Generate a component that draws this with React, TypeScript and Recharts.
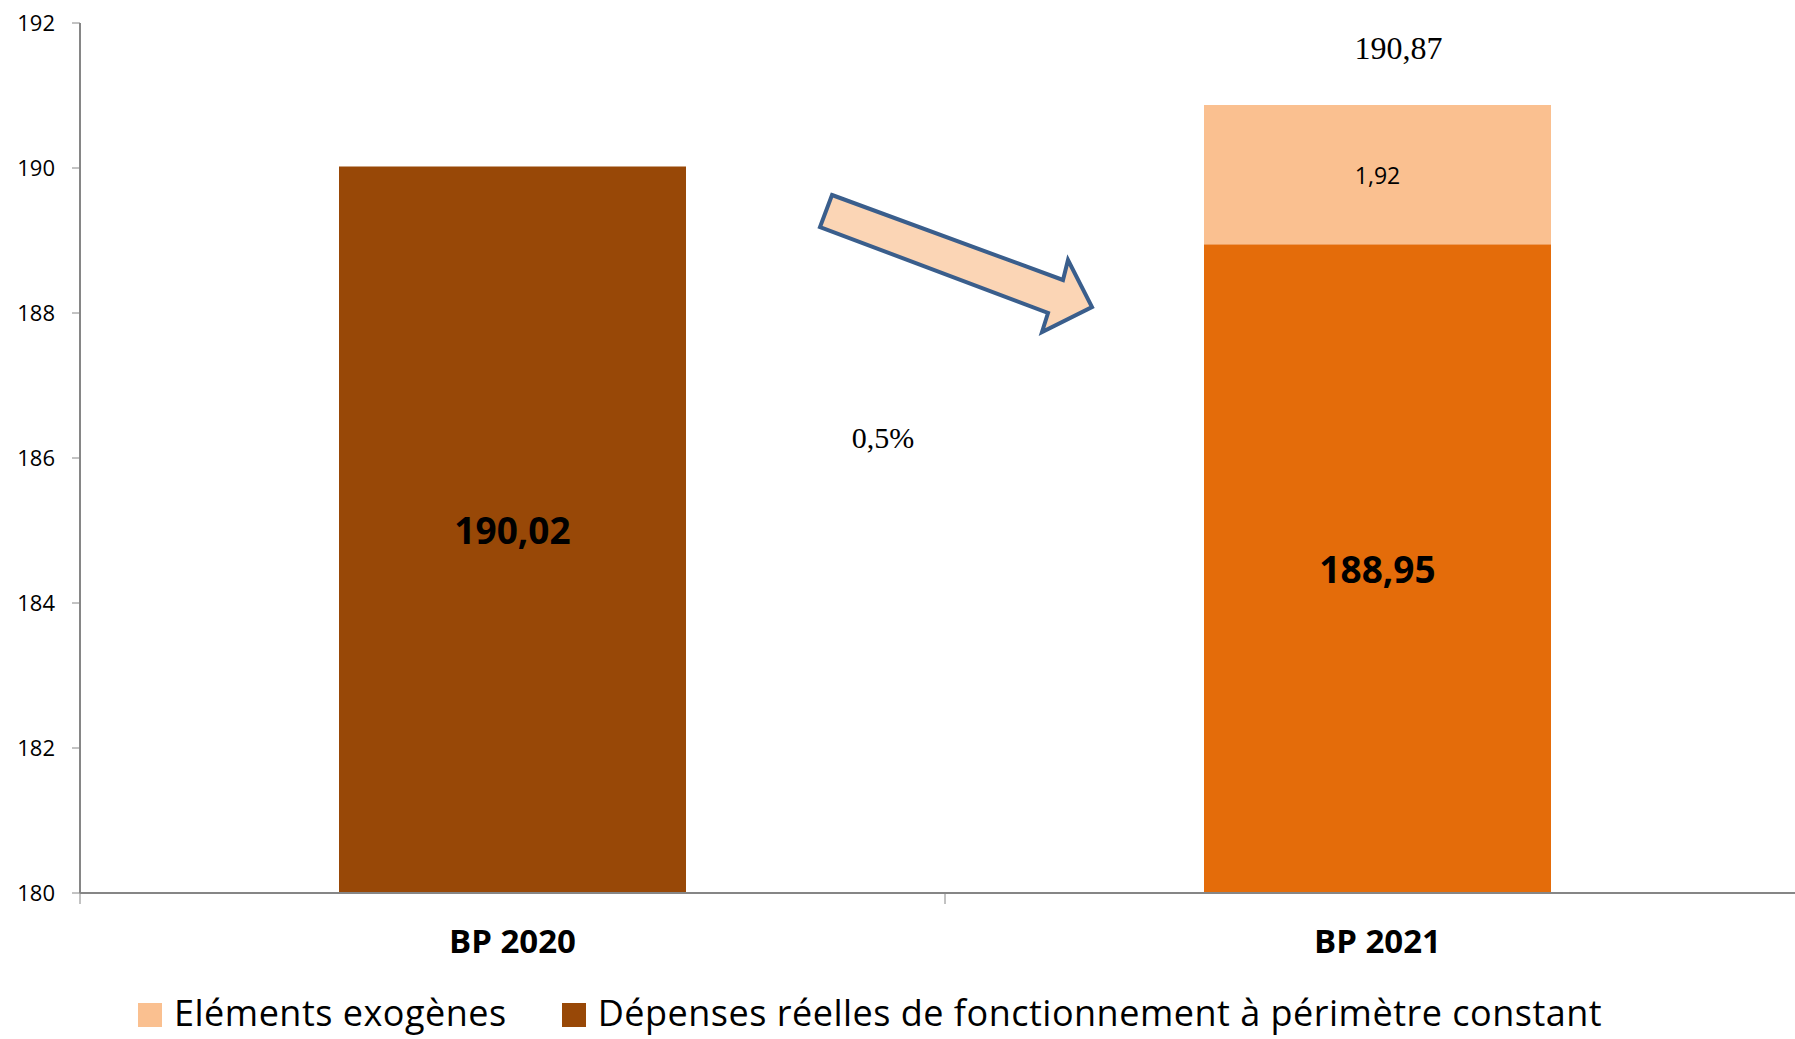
import React from 'react';
import { BarChart, Bar, XAxis, YAxis, Cell, LabelList } from 'recharts';

// values (M€)
const categories = ['BP 2020', 'BP 2021'];
const depenses = [190.02, 188.95];
const exogenes: (number | null)[] = [null, 1.92];
const yTicks = [180, 182, 184, 186, 188, 190, 192];
const variationLabel = '0,5%';

const SERIES_EXO = 'Eléments exogènes';
const SERIES_DEP = 'Dépenses réelles de fonctionnement à périmètre constant';

const DEP_COLORS = ['#984807', '#E46C0A'];
const EXO_COLOR = '#FAC090';
const AXIS_COLOR = '#868686';
const SANS = '"Open Sans", "Noto Sans", sans-serif';
const SERIF = '"Liberation Serif", "DejaVu Serif", serif';

const data = categories.map((name, i) => ({
  name,
  depenses: depenses[i],
  exogenes: exogenes[i],
  // total shown above the stacked bar only
  total: exogenes[i] != null ? depenses[i] + (exogenes[i] as number) : null,
}));

// layout
const W = 1830;
const H = 1039;
const MARGIN = { top: 23, right: 20, left: 0, bottom: 0 };
const YAXIS_W = 80;
const XAXIS_H = 146;
const PLOT_TOP = MARGIN.top;
const PLOT_BOTTOM = H - MARGIN.bottom - XAXIS_H;
const BAND = (W - MARGIN.left - MARGIN.right - YAXIS_W) / categories.length;

const fmt = (v: number) => v.toFixed(2).replace('.', ',');

const rectOf = (props: any) => {
  const vb = props.viewBox || {};
  const x = props.x ?? vb.x;
  const y = props.y ?? vb.y;
  const width = props.width ?? vb.width;
  const height = props.height ?? vb.height;
  const top = Math.max(Math.min(y, y + height), PLOT_TOP);
  const bottom = Math.min(Math.max(y, y + height), PLOT_BOTTOM);
  return { cx: x + width / 2, top, bottom };
};

const DepLabel = (props: any) => {
  if (props.value == null) return null;
  const { cx, top, bottom } = rectOf(props);
  return (
    <text x={cx} y={(top + bottom) / 2} textAnchor="middle" dominantBaseline="central"
      fontFamily={SANS} fontWeight="bold" fontSize={37} fill="#000">
      {fmt(props.value)}
    </text>
  );
};

const ExoLabel = (props: any) => {
  if (props.value == null) return null;
  const { cx, top, bottom } = rectOf(props);
  return (
    <text x={cx} y={(top + bottom) / 2} textAnchor="middle" dominantBaseline="central"
      fontFamily={SANS} fontSize={23} fill="#000">
      {fmt(props.value)}
    </text>
  );
};

const TotalLabel = (props: any) => {
  if (props.value == null) return null;
  const { cx, top } = rectOf(props);
  return (
    <text x={cx + 21} y={top - 57} textAnchor="middle" dominantBaseline="central"
      fontFamily={SERIF} fontSize={32} fill="#000">
      {fmt(props.value)}
    </text>
  );
};

const XTick = (props: any) => {
  const { x, payload, index } = props;
  const left = x - BAND / 2;
  return (
    <g>
      <line x1={left} x2={left} y1={PLOT_BOTTOM} y2={PLOT_BOTTOM + 11} stroke={AXIS_COLOR} />
      {index === categories.length - 1 && (
        <line x1={x + BAND / 2} x2={x + BAND / 2} y1={PLOT_BOTTOM} y2={PLOT_BOTTOM + 11} stroke={AXIS_COLOR} />
      )}
      <text x={x} y={940} textAnchor="middle" dominantBaseline="central"
        fontFamily={SANS} fontWeight="bold" fontSize={33} fill="#000">
        {payload.value}
      </text>
    </g>
  );
};

const LegendItem = ({ color, label }: { color: string; label: string }) => (
  <div style={{ display: 'flex', alignItems: 'center', marginRight: 55 }}>
    <div style={{ width: 24, height: 24, background: color, marginRight: 12, marginTop: 4 }} />
    <span style={{ fontFamily: SANS, fontSize: 36, letterSpacing: 0.5, lineHeight: '40px', color: '#000' }}>{label}</span>
  </div>
);

const App = () => {
  return (
    <div style={{ position: 'absolute', left: 0, top: 0, width: 1795, height: 1039, overflow: 'hidden', background: '#fff' }}>
      <BarChart width={W} height={H} data={data} margin={MARGIN}>
        <XAxis
          dataKey="name"
          height={XAXIS_H}
          axisLine={{ stroke: AXIS_COLOR, strokeWidth: 2 }}
          tickLine={false}
          tick={<XTick />}
          interval={0}
        />
        <YAxis
          domain={[180, 192]}
          ticks={yTicks}
          allowDataOverflow
          interval={0}
          width={YAXIS_W}
          tickSize={8}
          tickMargin={17}
          axisLine={{ stroke: AXIS_COLOR, strokeWidth: 2 }}
          tickLine={{ stroke: AXIS_COLOR }}
          tick={{ fill: '#000', fontSize: 22, fontFamily: SANS }}
        />
        <Bar dataKey="depenses" name={SERIES_DEP} stackId="a" barSize={347} isAnimationActive={false}>
          {data.map((_, i) => (
            <Cell key={`dep-${i}`} fill={DEP_COLORS[i % DEP_COLORS.length]} />
          ))}
          <LabelList dataKey="depenses" content={<DepLabel />} />
        </Bar>
        <Bar dataKey="exogenes" name={SERIES_EXO} stackId="a" barSize={347} fill={EXO_COLOR} isAnimationActive={false}>
          <LabelList dataKey="exogenes" content={<ExoLabel />} />
          <LabelList dataKey="total" content={<TotalLabel />} />
        </Bar>
      </BarChart>

      {/* arrow + variation annotation */}
      <svg width={1795} height={1039} style={{ position: 'absolute', left: 0, top: 0, pointerEvents: 'none' }}>
        <polygon
          points="832,195 1063,280 1068,260 1092,307 1042,332 1048,313 820,227"
          fill="#FBD5B5"
          stroke="#3A5E8C"
          strokeWidth={4}
          strokeLinejoin="miter"
        />
        <text x={883} y={437} textAnchor="middle" dominantBaseline="central" fontFamily={SERIF} fontSize={30} fill="#000">
          {variationLabel}
        </text>
      </svg>

      <div style={{ position: 'absolute', left: 138, top: 993, display: 'flex', alignItems: 'center' }}>
        <LegendItem color={EXO_COLOR} label={SERIES_EXO} />
        <LegendItem color={DEP_COLORS[0]} label={SERIES_DEP} />
      </div>
    </div>
  );
};

export default App;
